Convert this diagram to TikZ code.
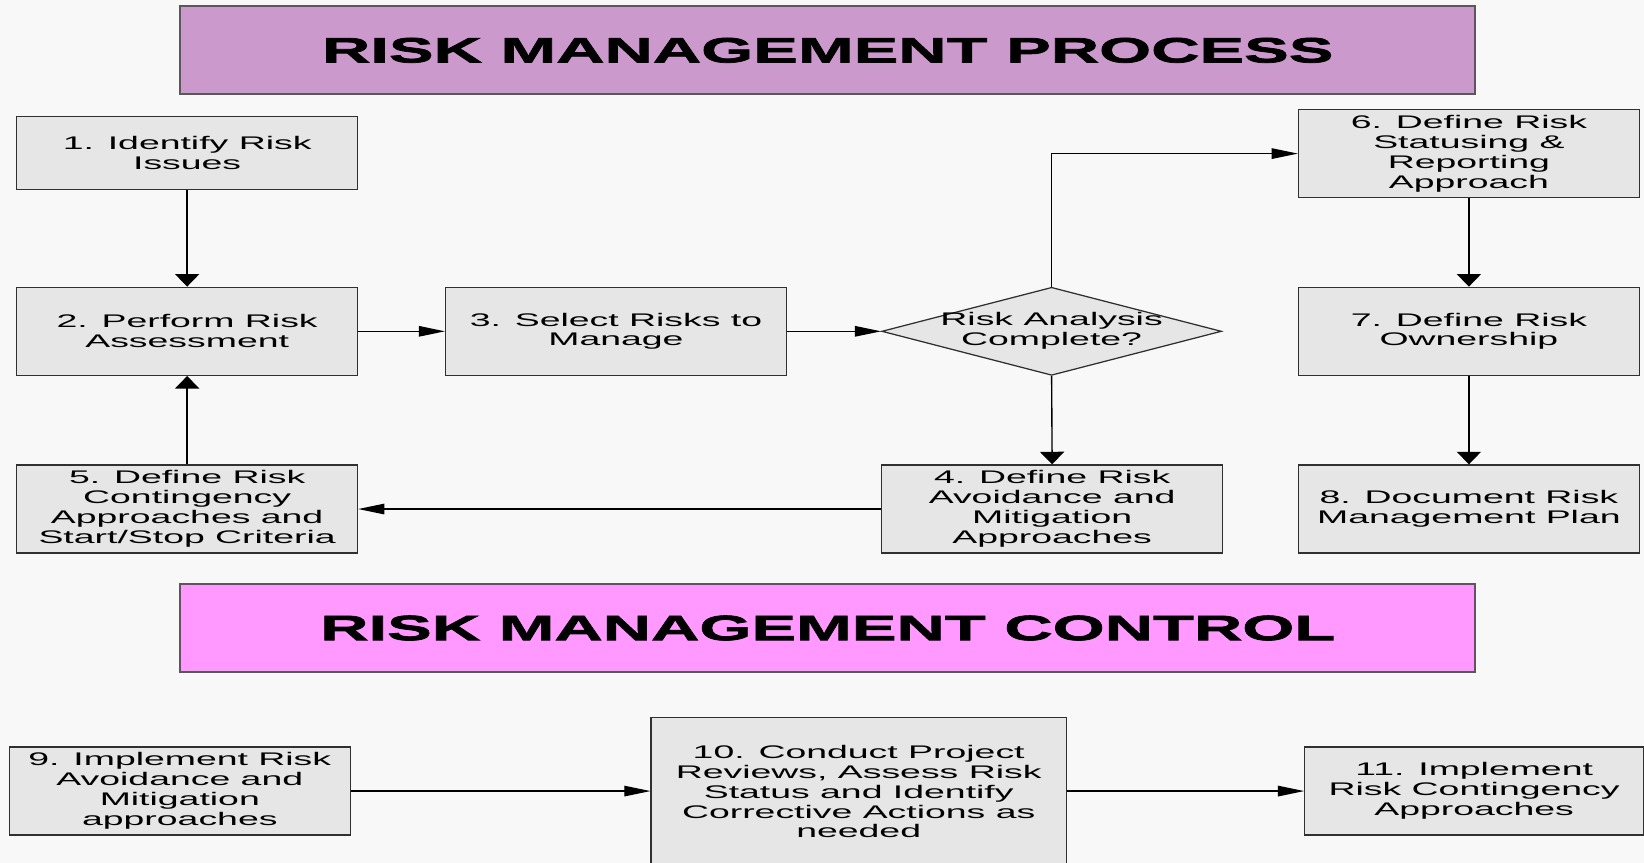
\documentclass[tikz,border=0pt]{standalone}
\usepackage{fontspec}
\usetikzlibrary{arrows.meta,shapes.geometric}
\newfontfamily\boxfont[FakeStretch=2.05]{Liberation Sans}
\newfontfamily\headfont[FakeStretch=1.9,FakeBold=2]{Liberation Sans Bold}
\definecolor{pagebg}{HTML}{F8F8F8}
\definecolor{boxfill}{HTML}{E6E6E6}
\definecolor{procband}{HTML}{CC99CC}
\definecolor{ctrlband}{HTML}{FF99FF}
\definecolor{edge}{HTML}{303030}
\begin{document}
\begin{tikzpicture}[x=0.5pt,y=-0.5pt,
  stepbox/.style={draw=edge,line width=0.6pt,fill=boxfill,rectangle,inner sep=0pt,
    minimum width=162.5pt,minimum height=42pt,align=center,
    font=\boxfont\fontsize{8.7}{9.5}\selectfont},
  decision/.style={draw=edge,line width=0.6pt,fill=boxfill,diamond,inner sep=0pt,
    minimum width=162pt,minimum height=42pt},
  dectext/.style={align=center,inner sep=0pt,font=\boxfont\fontsize{8.7}{9.5}\selectfont},
  band/.style={draw=black!65,line width=0.9pt,rectangle,inner sep=0pt,
    minimum width=617.5pt,minimum height=42pt,
    font=\headfont\fontsize{16.8}{18}\selectfont},
  link/.style={draw=black,line width=0.65pt},
  varr/.style={link,-{Triangle[width=11.5pt,length=6pt]}},
  harr/.style={link,-{Triangle[width=5pt,length=12.5pt]}}]

% page and its margins
\fill[pagebg] (0,0) rectangle (1568,823);
\useasboundingbox (0,0) rectangle (1568,823);

% section headings
\node[band,fill=procband] (proc) at (789.5,48) {RISK MANAGEMENT PROCESS};
\node[band,fill=ctrlband] (ctrl) at (789.5,599) {RISK MANAGEMENT CONTROL};

% planning steps
\node[stepbox,minimum height=35pt] (s1) at (178.5,146) {1. Identify Risk\\Issues};
\node[stepbox] (s2) at (178.5,316) {2. Perform Risk\\Assessment};
\node[stepbox] (s3) at (587.5,316) {3. Select Risks to\\Manage};
\node[decision] (dec) at (1003,316) {};
\node[dectext] (dectxt) at (1003,315.5) {Risk Analysis\\Complete?};
\node[stepbox] (s4) at (1003.5,485.5) {4. Define Risk\\Avoidance and\\Mitigation\\Approaches};
\node[stepbox] (s5) at (178.5,485.5) {5. Define Risk\\Contingency\\Approaches and\\Start/Stop Criteria};
\node[stepbox] (s6) at (1401,146.5) {6. Define Risk\\Statusing \&\\Reporting\\Approach};
\node[stepbox] (s7) at (1401,316) {7. Define Risk\\Ownership};
\node[stepbox] (s8) at (1401,485.5) {8. Document Risk\\Management Plan};

% control steps
\node[stepbox] (s9) at (171.5,754.5) {9. Implement Risk\\Avoidance and\\Mitigation\\approaches};
\node[stepbox,minimum width=198pt,minimum height=71pt] (s10) at (819,755)
  {10. Conduct Project\\Reviews, Assess Risk\\Status and Identify\\Corrective Actions as\\needed};
\node[stepbox,minimum width=161.5pt] (s11) at (1406,754.5) {11. Implement\\Risk Contingency\\Approaches};

% flow
\draw[varr] (s1) -- (s2);
\draw[harr] (s2) -- (s3);
\draw[harr] (s3) -- (dec);
\draw[harr] (dec.north) |- (s6.west);
\draw[varr] (dec.south) -- (s4.north);
\draw[harr] (s4.west) -- (s5.east);
\draw[varr] (s5) -- (s2);
\draw[varr] (s6.south) -- (s7.north);
\draw[varr] (s7.south) -- (s8.north);
\draw[harr] (s9.east) -- (s9.east -| s10.west);
\draw[harr] (s10.east |- s11.west) -- (s11.west);
\end{tikzpicture}
\end{document}
